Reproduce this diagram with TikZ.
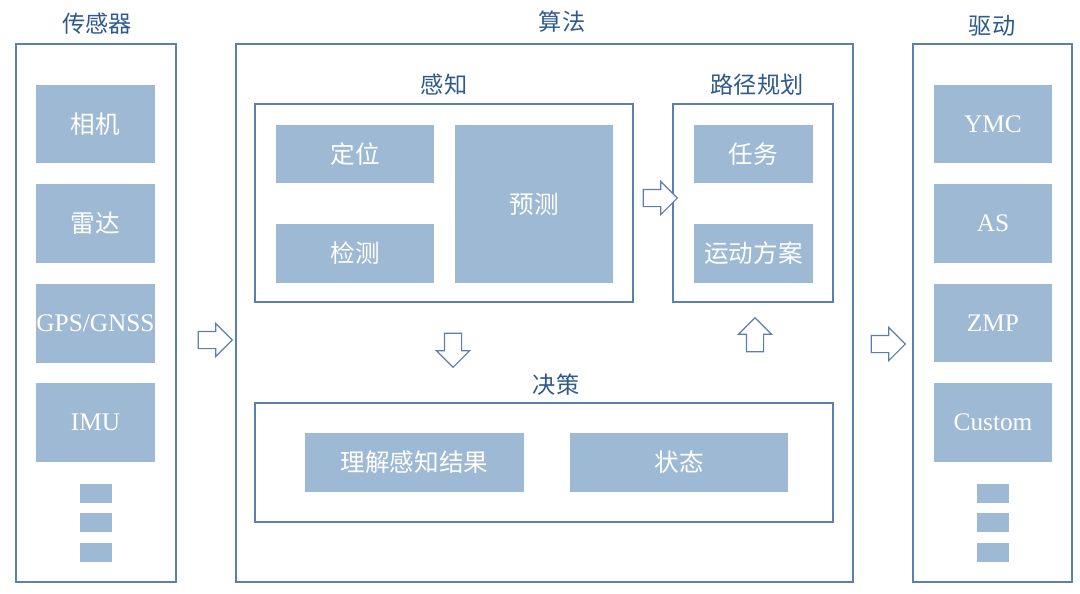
\documentclass[tikz,border=0pt]{standalone}
\usepackage{fontspec}
\setmainfont{Liberation Serif}
\newfontfamily\cjk{Noto Sans CJK SC}
\usetikzlibrary{shapes.arrows}
\definecolor{frameblue}{HTML}{5B7FAE}
\definecolor{boxblue}{HTML}{9EB9D4}
\definecolor{titleblue}{HTML}{2E5A8C}

\begin{document}
\begin{tikzpicture}[x=0.025cm, y=-0.025cm,
        panel/.style={draw=frameblue, line width=1pt, minimum height=13.45cm, inner sep=0},
        group/.style={draw=frameblue, line width=1pt, inner sep=0},
        item/.style={fill=boxblue, text=white, font=\fontsize{17.5}{20}\selectfont\cjk, minimum width=2.975cm, minimum height=1.95cm, inner sep=0},
        latin/.style={item, font=\fontsize{18}{20}\selectfont},
        dot/.style={fill=boxblue, minimum width=0.8cm, minimum height=0.475cm, inner sep=0},
        title/.style={text=titleblue, font=\fontsize{16.5}{20}\selectfont\cjk},
        hollow/.style={single arrow, draw=frameblue, fill=white, line width=0.8pt, inner sep=0.2cm, minimum width=0.8cm, minimum height=0.85cm, single arrow head extend=0.2cm}]
        \useasboundingbox (0,0) rectangle (1080,593);
        % sensors
        \node[panel, minimum width=4cm] (sensors) at (96,313) {};
        \node[title] (tsensors) at (97,24) {传感器};
        \node[item] (camera) at (95.5,124) {相机};
        \node[item] (radar) at (95.5,223.5) {雷达};
        \node[latin] (gps) at (95.5,323.5) {GPS/GNSS};
        \node[latin] (imu) at (95.5,422.5) {IMU};
        \node[dot] (s1) at (96,493) {};
        \node[dot] (s2) at (96,522.5) {};
        \node[dot] (s3) at (96,552.5) {};
        % algorithm
        \node[panel, minimum width=15.425cm] (algo) at (544.5,313) {};
        \node[title] (talgo) at (562,22) {算法};
        \node[group, minimum width=9.45cm, minimum height=4.95cm] (percep) at (444,203) {};
        \node[title] (tpercep) at (444,85) {感知};
        \node[item, minimum width=3.95cm, minimum height=1.45cm] (locate) at (355,154) {定位};
        \node[item, minimum width=3.95cm, minimum height=1.45cm] (detect) at (355,253.5) {检测};
        \node[item, minimum width=3.95cm, minimum height=3.95cm] (predict) at (534,204) {预测};
        \node[group, minimum width=4cm, minimum height=4.95cm] (plan) at (753,203) {};
        \node[title] (tplan) at (757,85) {路径规划};
        \node[item, minimum height=1.45cm] (task) at (753.5,154) {任务};
        \node[item, minimum height=1.45cm] (motion) at (753.5,253.5) {运动方案};
        \node[group, minimum width=14.45cm, minimum height=2.975cm] (decide) at (544,462.5) {};
        \node[title] (tdecide) at (556,385) {决策};
        \node[item, minimum width=5.475cm, minimum height=1.475cm] (understand) at (414.5,462.5) {理解感知结果};
        \node[item, minimum width=5.45cm, minimum height=1.475cm] (state) at (679,462.5) {状态};
        % drive
        \node[panel, minimum width=3.975cm] (drive) at (992.5,313) {};
        \node[title] (tdrive) at (992,26) {驱动};
        \node[latin, minimum width=2.95cm] (ymc) at (993,124) {YMC};
        \node[latin, minimum width=2.95cm] (as) at (993,223.5) {AS};
        \node[latin, minimum width=2.95cm] (zmp) at (993,323) {ZMP};
        \node[latin, minimum width=2.95cm] (custom) at (993,422.5) {Custom};
        \node[dot] (d1) at (992.5,493) {};
        \node[dot] (d2) at (992.5,522.5) {};
        \node[dot] (d3) at (992.5,552.5) {};
        % arrows
        \node[hollow] (a1) at (211,340) {};
        \node[hollow] (a2) at (656,198) {};
        \node[hollow, shape border rotate=270] (a3) at (453,346) {};
        \node[hollow, shape border rotate=90] (a4) at (755,339) {};
        \node[hollow] (a5) at (884,344) {};
\end{tikzpicture}
\end{document}
